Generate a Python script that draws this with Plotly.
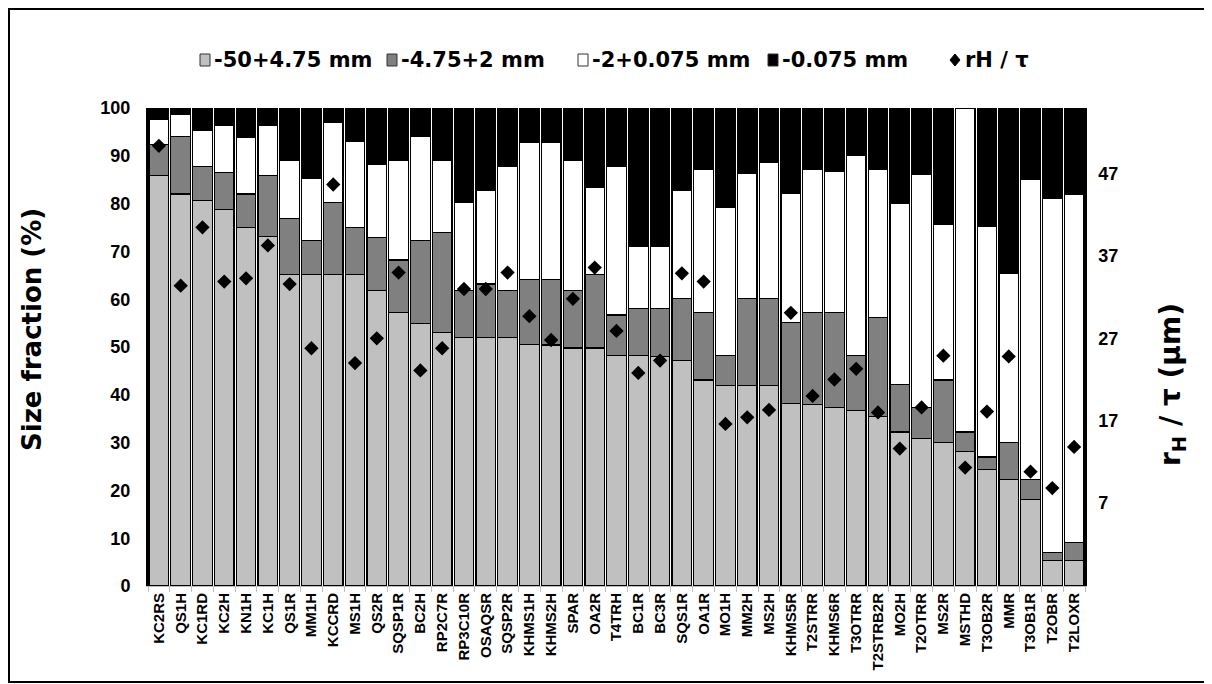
import plotly.graph_objects as go

samples = ["KC2RS", "QS1H", "KC1RD", "KC2H", "KN1H", "KC1H", "QS1R", "MM1H", "KCCRD", "MS1H",
           "QS2R", "SQSP1R", "BC2H", "RP2C7R", "RP3C10R", "OSAQSR", "SQSP2R", "KHMS1H", "KHMS2H", "SPAR",
           "OA2R", "T4TRH", "BC1R", "BC3R", "SQS1R", "OA1R", "MO1H", "MM2H", "MS2H", "KHMS5R",
           "T2STRR", "KHMS6R", "T3OTRR", "T2STRB2R", "MO2H", "T2OTRR", "MS2R", "MSTHD", "T3OB2R", "MMR",
           "T3OB1R", "T2OBR", "T2LOXR"]

# -50+4.75 mm (%)
coarse = [85.8, 82.0, 80.6, 78.8, 75.0, 73.2, 65.2, 65.1, 65.1, 65.1,
          61.9, 57.2, 55.0, 53.1, 52.0, 52.0, 52.0, 50.6, 50.4, 49.8,
          49.8, 48.3, 48.2, 48.0, 47.1, 43.1, 41.9, 41.9, 41.9, 38.2,
          37.9, 37.4, 36.8, 35.4, 32.2, 30.9, 30.0, 28.1, 24.3, 22.2,
          18.1, 5.4, 5.4]
# -4.75+2 mm (%)
medium = [6.5, 12.0, 7.1, 7.7, 7.0, 12.7, 11.7, 7.1, 15.2, 9.9,
          11.0, 11.0, 17.2, 20.9, 9.9, 11.2, 9.9, 13.5, 13.7, 12.1,
          15.4, 8.4, 9.9, 10.1, 13.1, 14.1, 6.3, 18.3, 18.3, 16.9,
          19.3, 19.8, 11.4, 20.8, 9.9, 6.4, 13.1, 4.1, 2.7, 7.9,
          4.1, 1.6, 3.7]
# -2+0.075 mm (%)
fine = [5.3, 4.7, 7.6, 9.8, 11.9, 10.4, 12.1, 13.1, 16.7, 18.1,
        15.3, 20.8, 21.8, 15.0, 18.4, 19.6, 25.8, 28.7, 28.7, 27.1,
        18.2, 31.0, 13.0, 13.0, 22.6, 30.0, 31.0, 26.1, 28.4, 27.0,
        30.0, 29.5, 41.8, 31.0, 38.0, 48.8, 32.6, 67.8, 48.3, 35.4,
        62.9, 74.1, 72.9]
# -0.075 mm (%)
slimes = [2.4, 1.3, 4.7, 3.7, 6.1, 3.7, 11.0, 14.7, 3.0, 6.9,
          11.8, 11.0, 6.0, 11.0, 19.7, 17.2, 12.3, 7.2, 7.2, 11.0,
          16.6, 12.3, 28.9, 28.9, 17.2, 12.8, 20.8, 13.7, 11.4, 17.9,
          12.8, 13.3, 10.0, 12.8, 19.9, 13.9, 24.3, 0.0, 24.7, 34.5,
          14.9, 18.9, 18.0]
# rH / tau (um)
rh_tau = [50.4, 33.4, 40.5, 33.9, 34.3, 38.3, 33.6, 25.8, 45.7, 24.0,
          27.0, 35.0, 23.1, 25.8, 33.0, 33.0, 35.0, 29.7, 26.8, 31.8,
          35.6, 27.9, 22.8, 24.3, 34.9, 33.9, 16.6, 17.4, 18.3, 30.1,
          20.0, 22.0, 23.3, 18.0, 13.6, 18.6, 24.9, 11.3, 18.1, 24.8,
          10.8, 8.8, 13.8]

right_ticks = [7, 17, 27, 37, 47]

legend_names = ["-50+4.75 mm", "-4.75+2 mm", "-2+0.075 mm", "-0.075 mm", "rH / τ"]
legend_colors = ["#C0C0C0", "#808080", "#FFFFFF", "#000000", "#000000"]

FONT = "Liberation Sans"
OFF = 8                      # page body margin
FW, FH = 1212 - OFF, 684 - OFF
# plot area in screen pixels
PL, PR, PT, PB = 148, 1085, 108, 586
ML, MR, MT, MB = PL - OFF, FW - (PR - OFF), PT - OFF, FH - (PB - OFF)
PW, PH = PR - PL, PB - PT

def px_x(x):
    return (x - PL) / PW

def px_y(y):
    return (PB - y) / PH

fig = go.Figure()
for name, vals, col in zip(legend_names[:4], [coarse, medium, fine, slimes], legend_colors[:4]):
    fig.add_trace(go.Bar(
        x=samples, y=vals, name=name, showlegend=False,
        marker=dict(color=col, line=dict(color="#000000", width=1.2)),
    ))

fig.add_trace(go.Scatter(
    x=samples, y=rh_tau, name=legend_names[4], mode="markers", yaxis="y2", showlegend=False,
    marker=dict(symbol="diamond", size=11, color="#000000"),
))

# manual legend (screen pixel positions of each entry)
sym_x = [205, 392, 583, 773, 955]
txt_x = [212, 399, 590, 780, 963]
LEG_Y = 60
shapes = []
annotations = []
for i, (name, col) in enumerate(zip(legend_names, legend_colors)):
    cx = sym_x[i]
    if i < 4:
        shapes.append(dict(type="rect", xref="paper", yref="paper",
                           x0=px_x(cx - 5), x1=px_x(cx + 5), y0=px_y(LEG_Y + 6), y1=px_y(LEG_Y - 6),
                           fillcolor=col, line=dict(color="#333333", width=1)))
    else:
        path = "M {} {} L {} {} L {} {} L {} {} Z".format(
            px_x(cx), px_y(LEG_Y - 6), px_x(cx + 5), px_y(LEG_Y),
            px_x(cx), px_y(LEG_Y + 6), px_x(cx - 5), px_y(LEG_Y))
        shapes.append(dict(type="path", xref="paper", yref="paper", path=path,
                           fillcolor=col, line=dict(color=col, width=1)))
    annotations.append(dict(text=name, xref="paper", yref="paper",
                            x=px_x(txt_x[i]), y=px_y(LEG_Y), xanchor="left", yanchor="middle",
                            showarrow=False,
                            font=dict(size=21, family="DejaVu Sans", weight="bold")))

annotations += [
    dict(text="Size fraction (%)", xref="paper", yref="paper",
         x=px_x(32), y=px_y(330), xanchor="center", yanchor="middle",
         textangle=-90, showarrow=False,
         font=dict(size=26, family="DejaVu Sans", weight="bold")),
    dict(text="r<sub>H</sub> / τ (µm)", xref="paper", yref="paper",
         x=px_x(1172), y=px_y(385), xanchor="center", yanchor="middle",
         textangle=-90, showarrow=False,
         font=dict(size=28, family="DejaVu Sans", weight="bold")),
]

# outer frame
shapes.append(dict(type="rect", xref="paper", yref="paper",
                   x0=px_x(OFF + 1), x1=px_x(OFF + FW - 2), y0=px_y(OFF + FH - 2), y1=px_y(OFF + 1),
                   line=dict(color="#000000", width=2), fillcolor="rgba(0,0,0,0)", layer="above"))

fig.update_layout(
    width=FW, height=FH, autosize=False,
    margin=dict(l=ML, r=MR, t=MT, b=MB, autoexpand=False),
    paper_bgcolor="white", plot_bgcolor="white",
    barmode="stack", bargap=0.1,
    font=dict(family=FONT, color="#000000", weight="bold"),
    showlegend=False,
    xaxis=dict(
        type="category", tickangle=-90, automargin=False,
        range=[-0.5, len(samples) - 0.5],
        tickfont=dict(size=15, family=FONT, weight="bold"),
        showline=True, linecolor="#BFBFBF", linewidth=1,
        ticks="outside", tickson="boundaries", ticklen=5, tickcolor="#BFBFBF",
        showgrid=False, zeroline=False,
    ),
    yaxis=dict(
        range=[0, 100], dtick=10, tick0=0, automargin=False,
        showline=True, linecolor="#000000", linewidth=2,
        ticks="", ticklabelstandoff=12,
        tickfont=dict(size=18, family=FONT, weight="bold"),
        showgrid=False, zeroline=False,
    ),
    yaxis2=dict(
        overlaying="y", side="right", range=[-3.1, 55], automargin=False,
        tickvals=right_ticks, ticktext=[str(v) for v in right_ticks],
        showline=True, linecolor="#000000", linewidth=1.5,
        ticks="", ticklabelstandoff=8,
        tickfont=dict(size=18, family=FONT, weight="bold"),
        showgrid=False, zeroline=False,
    ),
    annotations=annotations,
    shapes=shapes,
)

fig.write_html("out.html")
